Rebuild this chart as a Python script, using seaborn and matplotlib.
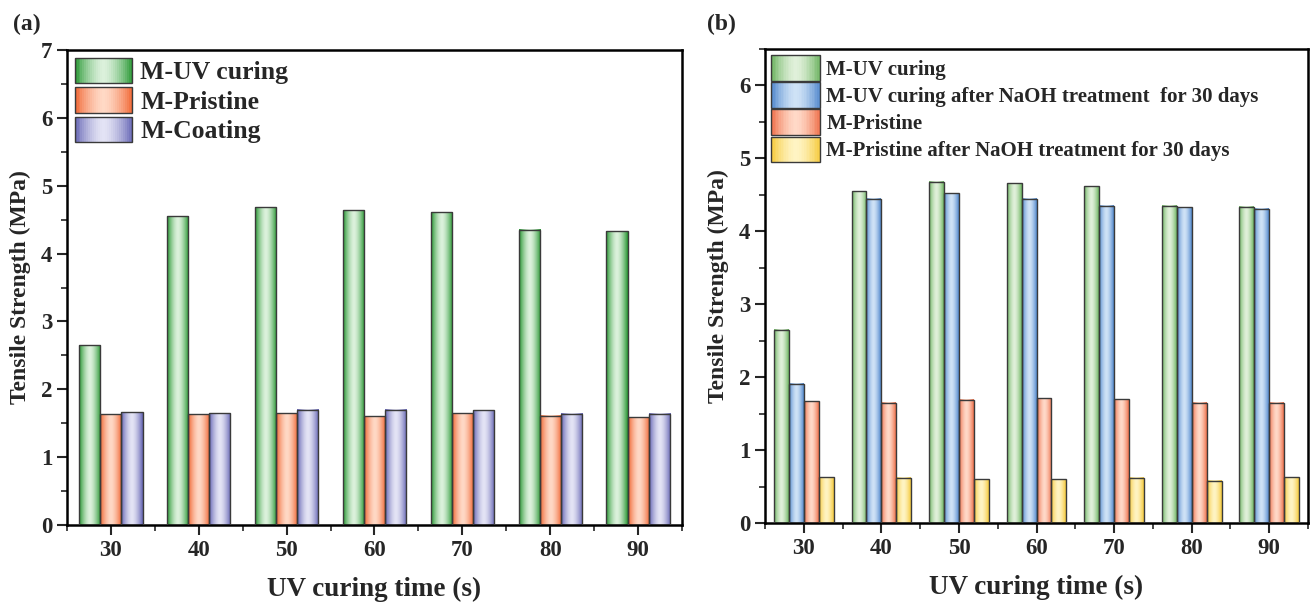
import matplotlib

matplotlib.use("Agg")
import matplotlib.pyplot as plt
import numpy as np
import pandas as pd
import seaborn as sns
from matplotlib.colors import LinearSegmentedColormap
from matplotlib.legend_handler import HandlerBase
from matplotlib.patches import Rectangle
from matplotlib.ticker import MultipleLocator


CURING_TIME = ["30", "40", "50", "60", "70", "80", "90"]

# panel (a)
A_SERIES = ["M-UV curing", "M-Pristine", "M-Coating"]
A_UV = [2.65, 4.55, 4.68, 4.64, 4.61, 4.35, 4.33]
A_PRISTINE = [1.63, 1.63, 1.65, 1.60, 1.65, 1.61, 1.59]
A_COATING = [1.66, 1.65, 1.70, 1.70, 1.69, 1.64, 1.64]

# panel (b)
B_SERIES = [
    "M-UV curing",
    "M-UV curing after NaOH treatment  for 30 days",
    "M-Pristine",
    "M-Pristine after NaOH treatment for 30 days",
]
B_UV = [2.65, 4.55, 4.68, 4.66, 4.62, 4.35, 4.34]
B_UV_NAOH = [1.91, 4.45, 4.52, 4.45, 4.35, 4.33, 4.31]
B_PRISTINE = [1.67, 1.65, 1.69, 1.71, 1.70, 1.65, 1.65]
B_PRISTINE_NAOH = [0.63, 0.62, 0.60, 0.60, 0.62, 0.58, 0.63]

# (edge colour, centre colour) of the shaded bars
A_SHADES = [("#24952f", "#dcf1dc"), ("#f0632f", "#ffd9c6"), ("#6363b3", "#e4e4f5")]
B_SHADES = [
    ("#6bb35f", "#e0f0da"),
    ("#4f86cc", "#cfe2f6"),
    ("#ee6e48", "#ffd9c8"),
    ("#f5c93a", "#fff4c4"),
]
OUTLINE = "#3a3a3a"


def profile(t):
    return 1.0 - np.abs(2.0 * np.asarray(t) - 1.0) ** 1.6


def make_cmap(edge, centre):
    return LinearSegmentedColormap.from_list("shade", [edge, centre])


class GradientHandler(HandlerBase):
    def __init__(self, cmap):
        super().__init__()
        self.cmap = cmap

    def create_artists(self, legend, orig_handle, xdescent, ydescent, width, height, fontsize, trans):
        artists = []
        n = 30
        for i in range(n):
            t = (i + 0.5) / n
            artists.append(
                Rectangle(
                    (-xdescent + width * i / n, -ydescent),
                    width / n + 0.4,
                    height,
                    facecolor=self.cmap(profile(t)),
                    edgecolor="none",
                    transform=trans,
                )
            )
        artists.append(
            Rectangle(
                (-xdescent, -ydescent), width, height,
                facecolor="none", edgecolor=OUTLINE, linewidth=1.0, transform=trans,
            )
        )
        return artists


def long_table(series_names, columns):
    rows = []
    for name, values in zip(series_names, columns):
        for time, value in zip(CURING_TIME, values):
            rows.append({"time": time, "series": name, "strength": value})
    return pd.DataFrame(rows)


def draw_panel(ax, df, series_names, shades, width, ymax, legend_size, handle_len, handle_h, spacing):
    sns.barplot(
        data=df, x="time", y="strength", hue="series",
        order=CURING_TIME, hue_order=series_names,
        palette=[c for c, _ in shades], width=width,
        edgecolor=OUTLINE, linewidth=1.0, legend=False, ax=ax,
    )
    grad = profile(np.linspace(0, 1, 80))[None, :]
    cmaps = [make_cmap(e, c) for e, c in shades]
    for container, cmap in zip(ax.containers, cmaps):
        for bar in container:
            x0 = bar.get_x()
            ax.imshow(
                grad, extent=(x0, x0 + bar.get_width(), 0, bar.get_height()),
                cmap=cmap, vmin=0, vmax=1, aspect="auto", zorder=2,
                interpolation="bilinear",
            )
            bar.set_facecolor("none")
            bar.set_zorder(3)
    ax.set_xlim(-0.5, len(CURING_TIME) - 0.5)
    ax.set_ylim(0, ymax)
    ax.yaxis.set_major_locator(MultipleLocator(1))
    ax.yaxis.set_minor_locator(MultipleLocator(0.5))
    ax.xaxis.set_minor_locator(MultipleLocator(0.5))
    ax.tick_params(which="major", direction="out", length=7, width=1.5, labelsize=16.5)
    ax.tick_params(which="minor", direction="out", length=4, width=1.2)
    for spine in ax.spines.values():
        spine.set_visible(True)
        spine.set_linewidth(1.8)
        spine.set_color("black")
    ax.set_xlabel("UV curing time (s)", fontsize=19.5, labelpad=12)
    ax.set_ylabel("Tensile Strength (MPa)", fontsize=17, labelpad=7)

    handles = [Rectangle((0, 0), 1, 1) for _ in series_names]
    ax.legend(
        handles, series_names,
        handler_map={h: GradientHandler(cm) for h, cm in zip(handles, cmaps)},
        loc="upper left", bbox_to_anchor=(0.0, 1.0), frameon=False,
        handlelength=handle_len, handleheight=handle_h,
        labelspacing=spacing, handletextpad=0.3, borderaxespad=0.3, borderpad=0,
        prop={"weight": "bold", "size": legend_size},
    )


def main():
    sns.set_style("ticks")
    plt.rcParams["font.family"] = ["Liberation Serif", "DejaVu Serif"]
    plt.rcParams["font.weight"] = "bold"
    plt.rcParams["axes.labelweight"] = "bold"

    fig = plt.figure(figsize=(13.1, 6.05), dpi=100)
    ax_a = fig.add_axes([0.0511, 0.1322, 0.4695, 0.7851])
    ax_b = fig.add_axes([0.584, 0.1355, 0.4145, 0.7835])

    df_a = long_table(A_SERIES, [A_UV, A_PRISTINE, A_COATING])
    df_b = long_table(B_SERIES, [B_UV, B_UV_NAOH, B_PRISTINE, B_PRISTINE_NAOH])

    draw_panel(ax_a, df_a, A_SERIES, A_SHADES, 0.72, 7, 18.5, 2.25, 1.15, 0.12)
    draw_panel(ax_b, df_b, B_SERIES, B_SHADES, 0.77, 6.5, 15, 2.35, 1.5, 0.08)

    fig.text(0.010, 0.96, "(a)", fontsize=17, fontweight="bold", va="center")
    fig.text(0.540, 0.96, "(b)", fontsize=17, fontweight="bold", va="center")

    fig.savefig("out.png", dpi=100)
    plt.close(fig)


if __name__ == "__main__":
    main()
